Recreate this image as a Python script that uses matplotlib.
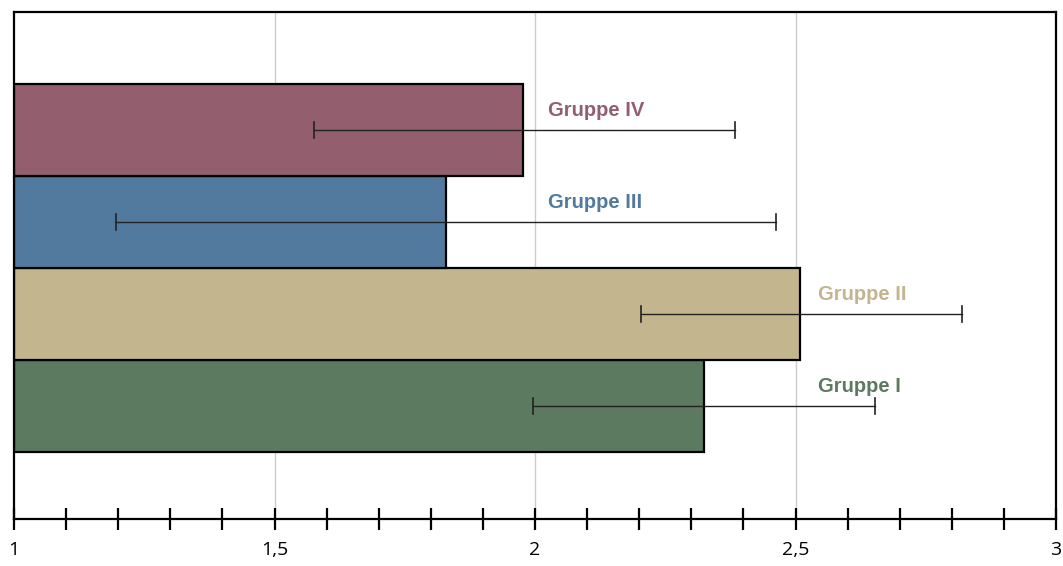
import numpy as np
import matplotlib.pyplot as plt
from matplotlib.ticker import MultipleLocator, FixedLocator, FuncFormatter

# Data
gruppen = ['Gruppe I', 'Gruppe II', 'Gruppe III', 'Gruppe IV']
werte = [2.324, 2.509, 1.829, 1.977]
fehler_unten = [1.996, 2.203, 1.196, 1.576]
fehler_oben = [2.653, 2.820, 2.463, 2.384]
label_x = [2.543, 2.543, 2.025, 2.025]
farben = ['#5b7a60', '#c3b58e', '#527a9e', '#935f6e']

fig = plt.figure(figsize=(10.63, 5.66), dpi=100)
ax = fig.add_axes([14 / 1063, 47 / 566, 1042 / 1063, 507 / 566])

y = np.arange(len(gruppen))
basis = 1.0
ax.barh(y, np.array(werte) - basis, left=basis, height=1.0, color=farben,
        edgecolor='black', linewidth=1.6, zorder=2)

# Error bars
for i in range(len(gruppen)):
    ax.plot([fehler_unten[i], fehler_oben[i]], [y[i], y[i]], color='#222222', lw=1.0, zorder=3)
    for xe in (fehler_unten[i], fehler_oben[i]):
        ax.plot([xe, xe], [y[i] - 0.085, y[i] + 0.085], color='#222222', lw=1.2, zorder=3)
    ax.text(label_x[i], y[i] + 0.21, gruppen[i], color=farben[i], fontsize=14.5,
            fontweight='bold', family=['Liberation Sans', 'DejaVu Sans'],
            va='center', ha='left', zorder=4)

ax.set_xlim(1, 3)
ax.set_ylim(-1.23, 4.28)
ax.set_yticks([])

ax.xaxis.set_major_locator(FixedLocator([1, 1.5, 2, 2.5, 3]))
ax.xaxis.set_minor_locator(MultipleLocator(0.1))
ax.xaxis.set_major_formatter(FuncFormatter(lambda v, p: ('%g' % v).replace('.', ',')))
ax.tick_params(axis='x', which='both', direction='inout', length=16, width=1.6, color='black')
ax.tick_params(axis='x', which='major', labelsize=14, pad=8)
for lab in ax.get_xticklabels():
    lab.set_family('Open Sans')

for v in [1.5, 2, 2.5]:
    ax.axvline(v, color='#cccccc', lw=1.0, zorder=1)

for s in ax.spines.values():
    s.set_linewidth(1.6)
    s.set_color('black')

fig.savefig('out.png', dpi=100)
